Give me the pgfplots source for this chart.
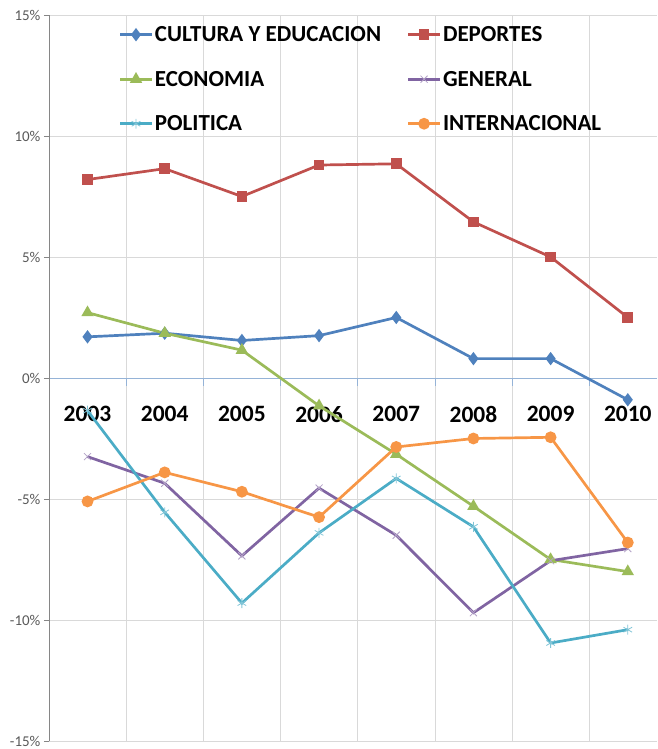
\documentclass[border=0pt]{standalone}
\usepackage{pgfplots}
\pgfplotsset{compat=1.18}
\usepackage{fontspec}
\setmainfont{Carlito}
\definecolor{cblue}{HTML}{4F81BD}
\definecolor{cred}{HTML}{C0504D}
\definecolor{cgreen}{HTML}{9BBB59}
\definecolor{cpurple}{HTML}{8064A2}
\definecolor{caqua}{HTML}{4BACC6}
\definecolor{corange}{HTML}{F79646}
\definecolor{gridc}{HTML}{D9D9D9}
\definecolor{zeroc}{HTML}{95B3D7}
\definecolor{axc}{HTML}{868686}
\begin{document}
\begin{tikzpicture}
\begin{axis}[
  scale only axis,
  width=609pt, height=727pt,
  xmin=-0.5, xmax=7.38,
  ymin=-15, ymax=15,
  axis x line=middle,
  axis y line=left,
  axis line style={-},
  x axis line style={color=zeroc, line width=0.8pt},
  y axis line style={color=axc, line width=0.8pt},
  xtick={0,...,7},
  xticklabels={2003,2004,2005,2006,2007,2008,2009,2010},
  major x tick style={draw=none},
  minor xtick={-0.5,0.5,...,7.5},
  xminorgrids=true,
  minor x grid style={color=gridc, line width=0.6pt},
  minor x tick style={color=zeroc, line width=0.6pt},
  minor tick length=8pt,
  xtick align=outside,
  xticklabel style={font=\fontsize{23.5}{26}\selectfont\bfseries, yshift=-20pt, text=black},
  ytick={-15,-10,...,15},
  ymajorgrids=true,
  major y grid style={color=gridc, line width=0.6pt},
  ytick align=outside,
  major tick length=5pt,
  y tick style={color=axc, line width=0.6pt},
  yticklabel={\pgfmathprintnumber{\tick}\%},
  /pgf/number format/assume math mode=true,
  yticklabel style={font=\fontsize{15}{18}\selectfont, text=black!65, xshift=0pt},
  every axis plot/.append style={line width=2.7pt},
  legend columns=2,
  legend style={draw=none, fill=none, at={(0.11,0.99)}, anchor=north west,
    font=\fontsize{23}{25}\selectfont\bfseries,
    row sep=24pt, /tikz/every even column/.append style={column sep=24pt}},
  legend cell align=left,
  legend image code/.code={\draw[mark repeat=2,mark phase=2] plot coordinates {(0cm,0cm) (0.55cm,0cm) (1.1cm,0cm)};},
]
\coordinate (bl) at (rel axis cs:0,0);
\coordinate (tr) at (rel axis cs:1,1);
\addplot[color=cblue, mark=diamond*, mark size=4.5pt] coordinates {(0,1.7) (1,1.85) (2,1.55) (3,1.75) (4,2.5) (5,0.8) (6,0.8) (7,-0.9)};
\addlegendentry{CULTURA Y EDUCACION}
\addplot[color=cred, mark=square*, mark size=4pt] coordinates {(0,8.2) (1,8.65) (2,7.5) (3,8.8) (4,8.85) (5,6.45) (6,5.0) (7,2.5)};
\addlegendentry{DEPORTES}
\addplot[color=cgreen, mark=triangle*, mark size=4.5pt] coordinates {(0,2.7) (1,1.85) (2,1.15) (3,-1.15) (4,-3.15) (5,-5.3) (6,-7.5) (7,-8.0)};
\addlegendentry{ECONOMIA}
\addplot[color=cpurple, mark=x, mark size=5pt, mark options={line width=0.8pt, color=cpurple!60}] coordinates {(0,-3.25) (1,-4.35) (2,-7.35) (3,-4.55) (4,-6.5) (5,-9.7) (6,-7.55) (7,-7.05)};
\addlegendentry{GENERAL}
\addplot[color=caqua, mark=asterisk, mark size=5pt, mark options={line width=0.8pt, color=caqua!70}] coordinates {(0,-1.35) (1,-5.55) (2,-9.3) (3,-6.4) (4,-4.15) (5,-6.15) (6,-10.95) (7,-10.4)};
\addlegendentry{POLITICA}
\addplot[color=corange, mark=*, mark size=4.5pt] coordinates {(0,-5.1) (1,-3.9) (2,-4.7) (3,-5.75) (4,-2.85) (5,-2.5) (6,-2.45) (7,-6.8)};
\addlegendentry{INTERNACIONAL}
\end{axis}
\pgfresetboundingbox
\path ([shift={(-49pt,-8pt)}]bl) rectangle ([shift={(0pt,15pt)}]tr);
\end{tikzpicture}
\end{document}
